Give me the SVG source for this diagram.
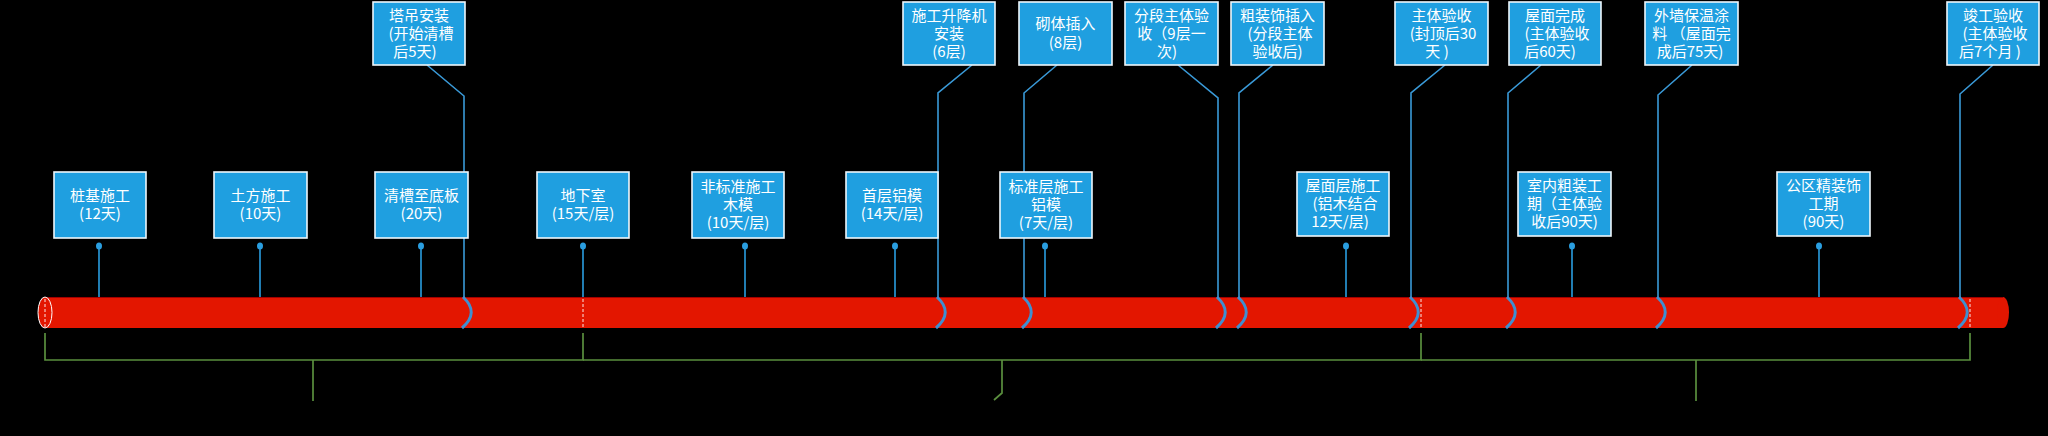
<svg xmlns="http://www.w3.org/2000/svg" width="2048" height="436" viewBox="0 0 2048 436">
<style>
.box{fill:#1f9fe0;stroke:#eef7fc;stroke-width:1.6}
.t{font-family:"Noto Sans CJK SC","Noto Sans",sans-serif;font-size:15px;fill:#ffffff;text-anchor:middle}
.c{fill:none;stroke:#3a9ad8;stroke-width:1.6}
.br{fill:none;stroke:#3f8fd0;stroke-width:3}
.st{stroke:#2a9ee0;stroke-width:1.6}
.dot{fill:#2a9ee0}
.g{fill:none;stroke:#5a8f3e;stroke-width:1.7}
.dash{stroke:#ffffff;stroke-width:0.9;stroke-dasharray:3 2}
</style>
<rect width="2048" height="436" fill="#000000"/>

<g id="bar">
  <rect x="45" y="297" width="1958" height="31" fill="#e31600"/>
  <ellipse cx="2003" cy="312.5" rx="6" ry="15.5" fill="#e31600"/>
  <line x1="45" y1="297.5" x2="2003" y2="297.5" stroke="#a30000" stroke-width="1"/>
  <ellipse cx="45" cy="312.5" rx="7" ry="15.5" fill="#e31600" stroke="#ffffff" stroke-width="1"/>
  <line class="dash" x1="45" y1="299" x2="45" y2="327"/>
  <line class="dash" x1="583" y1="299" x2="583" y2="327"/>
  <line class="dash" x1="1421" y1="299" x2="1421" y2="327"/>
  <line class="dash" x1="1970" y1="299" x2="1970" y2="327"/>
</g>

<g id="connectors">
  <polyline class="c" points="427,65 464,96 464,297"/>
  <path class="br" d="M463,297 Q480,312.5 462,328"/>
  <polyline class="c" points="972,65 938,93 938,297"/>
  <path class="br" d="M937,297 Q954,312.5 936,328"/>
  <polyline class="c" points="1057,65 1024,93 1024,297"/>
  <path class="br" d="M1023,297 Q1040,312.5 1022,328"/>
  <polyline class="c" points="1178,65 1218,98 1218,297"/>
  <path class="br" d="M1217,297 Q1234,312.5 1216,328"/>
  <polyline class="c" points="1273,65 1239,93 1239,297"/>
  <path class="br" d="M1238,297 Q1255,312.5 1237,328"/>
  <polyline class="c" points="1445,65 1411,93 1411,297"/>
  <path class="br" d="M1410,297 Q1427,312.5 1409,328"/>
  <polyline class="c" points="1541,65 1508,93 1508,297"/>
  <path class="br" d="M1507,297 Q1524,312.5 1506,328"/>
  <polyline class="c" points="1692,65 1658,95 1658,297"/>
  <path class="br" d="M1657,297 Q1674,312.5 1656,328"/>
  <polyline class="c" points="1993,65 1960,94 1960,297"/>
  <path class="br" d="M1959,297 Q1976,312.5 1958,328"/>
  <line class="st" x1="99" y1="246" x2="99" y2="297"/><ellipse class="dot" cx="99" cy="246" rx="3" ry="3.5"/>
  <line class="st" x1="260" y1="246" x2="260" y2="297"/><ellipse class="dot" cx="260" cy="246" rx="3" ry="3.5"/>
  <line class="st" x1="421" y1="246" x2="421" y2="297" stroke="#5b8fb8"/><ellipse class="dot" cx="421" cy="246" rx="3" ry="3.5"/>
  <line class="st" x1="583" y1="246" x2="583" y2="297"/><ellipse class="dot" cx="583" cy="246" rx="3" ry="3.5"/>
  <line class="st" x1="745" y1="246" x2="745" y2="297" stroke="#6a8fb0"/><ellipse class="dot" cx="745" cy="246" rx="3" ry="3.5"/>
  <line class="st" x1="895" y1="246" x2="895" y2="297"/><ellipse class="dot" cx="895" cy="246" rx="3" ry="3.5"/>
  <line class="st" x1="1045" y1="246" x2="1045" y2="297"/><ellipse class="dot" cx="1045" cy="246" rx="3" ry="3.5"/>
  <line class="st" x1="1346" y1="246" x2="1346" y2="297"/><ellipse class="dot" cx="1346" cy="246" rx="3" ry="3.5"/>
  <line class="st" x1="1572" y1="246" x2="1572" y2="297"/><ellipse class="dot" cx="1572" cy="246" rx="3" ry="3.5"/>
  <line class="st" x1="1819" y1="246" x2="1819" y2="297"/><ellipse class="dot" cx="1819" cy="246" rx="3" ry="3.5"/>
</g>

<g id="brackets">
  <polyline class="g" points="45,333 45,360 583,360 583,333"/>
  <line class="g" x1="313" y1="360" x2="313" y2="401"/>
  <polyline class="g" points="583,360 1421,360 1421,333"/>
  <polyline class="g" points="1002,360 1002,393 994,400"/>
  <polyline class="g" points="1421,360 1970,360 1970,333"/>
  <line class="g" x1="1696" y1="360" x2="1696" y2="401"/>
</g>

<g id="n-tadiao"><rect class="box" x="373" y="2" width="92" height="63"/>
  <text class="t" x="419" y="20.5">塔吊安装</text><text class="t" x="421" y="39">(开始清槽</text><text class="t" x="415" y="57">后5天)</text></g>
<g id="n-shengjiangji"><rect class="box" x="903" y="2" width="92" height="63"/>
  <text class="t" x="949" y="20.5">施工升降机</text><text class="t" x="949" y="39">安装</text><text class="t" x="949" y="57">(6层)</text></g>
<g id="n-qiti"><rect class="box" x="1019" y="2" width="93" height="63"/>
  <text class="t" x="1065.5" y="29">砌体插入</text><text class="t" x="1065.5" y="48">(8层)</text></g>
<g id="n-fenduan"><rect class="box" x="1125" y="2" width="93" height="63"/>
  <text class="t" x="1171.5" y="20.5">分段主体验</text><text class="t" x="1171.5" y="39">收（9层一</text><text class="t" x="1167" y="57">次)</text></g>
<g id="n-cuzhuangshi"><rect class="box" x="1231" y="2" width="93" height="63"/>
  <text class="t" x="1277.5" y="20.5">粗装饰插入</text><text class="t" x="1280" y="39">(分段主体</text><text class="t" x="1277.5" y="57">验收后)</text></g>
<g id="n-zhutiyanshou"><rect class="box" x="1395" y="2" width="93" height="63"/>
  <text class="t" x="1441.5" y="20.5">主体验收</text><text class="t" x="1443" y="39">(封顶后30</text><text class="t" x="1437" y="57">天 )</text></g>
<g id="n-wumianwancheng"><rect class="box" x="1509" y="2" width="92" height="63"/>
  <text class="t" x="1555" y="20.5">屋面完成</text><text class="t" x="1557" y="39">(主体验收</text><text class="t" x="1550" y="57">后60天)</text></g>
<g id="n-waiqiang"><rect class="box" x="1645" y="2" width="93" height="63"/>
  <text class="t" x="1691.5" y="20.5">外墙保温涂</text><text class="t" x="1691.5" y="39">料 （屋面完</text><text class="t" x="1690" y="57">成后75天)</text></g>
<g id="n-jungong"><rect class="box" x="1947" y="2" width="92" height="63"/>
  <text class="t" x="1993" y="20.5">竣工验收</text><text class="t" x="1995" y="39">(主体验收</text><text class="t" x="1990" y="57">后7个月 )</text></g>

<g id="n-zhuangji"><rect class="box" x="54" y="172" width="92" height="66"/>
  <text class="t" x="100" y="201">桩基施工</text><text class="t" x="100" y="219">(12天)</text></g>
<g id="n-tufang"><rect class="box" x="214" y="172" width="93" height="66"/>
  <text class="t" x="260.5" y="201">土方施工</text><text class="t" x="260.5" y="219">(10天)</text></g>
<g id="n-qingcao"><rect class="box" x="375" y="172" width="93" height="66"/>
  <text class="t" x="421.5" y="201">清槽至底板</text><text class="t" x="421.5" y="219">(20天)</text></g>
<g id="n-dixiashi"><rect class="box" x="537" y="172" width="92" height="66"/>
  <text class="t" x="583" y="201">地下室</text><text class="t" x="583" y="219">(15天/层)</text></g>
<g id="n-feibiaozhun"><rect class="box" x="692" y="172" width="92" height="66"/>
  <text class="t" x="738" y="192">非标准施工</text><text class="t" x="738" y="210">木模</text><text class="t" x="738" y="228">(10天/层)</text></g>
<g id="n-shouceng"><rect class="box" x="846" y="172" width="92" height="66"/>
  <text class="t" x="892" y="201">首层铝模</text><text class="t" x="892" y="219">(14天/层)</text></g>
<g id="n-biaozhunceng"><rect class="box" x="1000" y="172" width="92" height="66"/>
  <text class="t" x="1046" y="192">标准层施工</text><text class="t" x="1046" y="210">铝模</text><text class="t" x="1046" y="228">(7天/层)</text></g>
<g id="n-wumianceng"><rect class="box" x="1297" y="172" width="92" height="64"/>
  <text class="t" x="1343" y="191">屋面层施工</text><text class="t" x="1345" y="209">(铝木结合</text><text class="t" x="1340" y="227">12天/层)</text></g>
<g id="n-shinei"><rect class="box" x="1518" y="172" width="93" height="64"/>
  <text class="t" x="1564.5" y="191">室内粗装工</text><text class="t" x="1564.5" y="209">期（主体验</text><text class="t" x="1564.5" y="227">收后90天)</text></g>
<g id="n-gongqu"><rect class="box" x="1777" y="172" width="93" height="64"/>
  <text class="t" x="1823.5" y="191">公区精装饰</text><text class="t" x="1823.5" y="209">工期</text><text class="t" x="1823.5" y="227">(90天)</text></g>
</svg>
